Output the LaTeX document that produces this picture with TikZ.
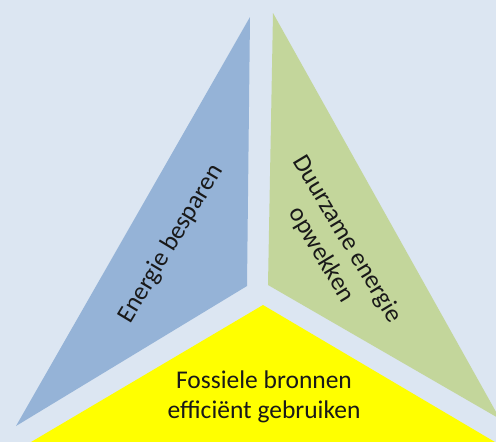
\documentclass[tikz,border=0pt]{standalone}
\usepackage{fontspec}
\setmainfont{Carlito}
\definecolor{bgblue}{HTML}{DCE6F2}
\definecolor{saveblue}{HTML}{95B3D7}
\definecolor{greenpart}{HTML}{C3D69B}
\definecolor{fossilyellow}{HTML}{FFFF00}
\begin{document}
\begin{tikzpicture}[x=1pt,y=-1pt,
    label/.style={font=\fontsize{25.5}{30}\selectfont, text=black!90, align=center, inner sep=0pt}]
        % Draw the background
        \fill[bgblue] (0,0) rectangle (496,442);
        \useasboundingbox (0,0) rectangle (496,442);
        \clip (0,0) rectangle (496,442);

        % Draw the three parts
        \fill[saveblue] (250,17) -- (247,286) -- (16,426) -- cycle;
        \fill[greenpart] (273,13) -- (268,285) -- (500,419) -- cycle;
        \fill[fossilyellow] (263,305) -- (500,445) -- (26,445) -- cycle;

        % Add the labels
        \node[label, rotate=59] (besparen) at (171,244) {Energie besparen};
        \node[label, rotate=-59] (duurzaam) at (334,247) {Duurzame energie\\opwekken};
        \node[label] (fossiel) at (264,397) {Fossiele bronnen\\efficiënt gebruiken};
    \end{tikzpicture}
\end{document}
